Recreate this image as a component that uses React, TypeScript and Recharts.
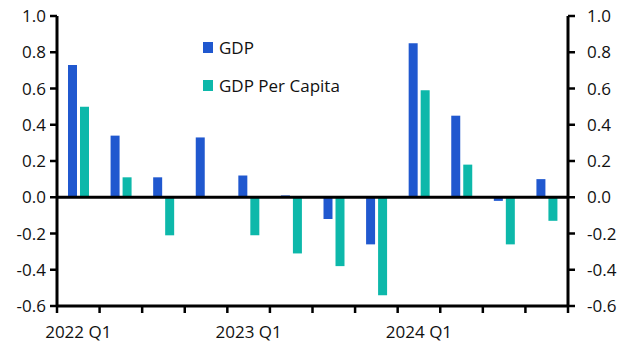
import { BarChart, Bar, XAxis, YAxis, ReferenceLine, Legend } from 'recharts'

const quarters = [
  '2022 Q1', '2022 Q2', '2022 Q3', '2022 Q4',
  '2023 Q1', '2023 Q2', '2023 Q3', '2023 Q4',
  '2024 Q1', '2024 Q2', '2024 Q3', '2024 Q4',
]
const gdp = [0.73, 0.34, 0.11, 0.33, 0.12, 0.01, -0.12, -0.26, 0.85, 0.45, -0.02, 0.1]
const gdpPerCapita = [0.5, 0.11, -0.21, 0.0, -0.21, -0.31, -0.38, -0.54, 0.59, 0.18, -0.26, -0.13]
const yTicks = [-0.6, -0.4, -0.2, 0, 0.2, 0.4, 0.6, 0.8, 1.0]

const chartData = quarters.map((q, i) => ({
  quarter: q,
  GDP: gdp[i],
  'GDP Per Capita': gdpPerCapita[i],
}))

const FONT = '"Open Sans", sans-serif'
const GDP_COLOR = '#2058CF'
const PC_COLOR = '#0DB8AA'
const WIDTH = 627
const HEIGHT = 353
const LEFT_AXIS_W = 57
const RIGHT_AXIS_W = 59
const band = (WIDTH - LEFT_AXIS_W - RIGHT_AXIS_W) / quarters.length

const QuarterTick = (props: any) => {
  const { x, y, payload, index } = props
  const isLast = index === quarters.length - 1
  return (
    <g>
      <line x1={x - band / 2} x2={x - band / 2} y1={y} y2={y + 7} stroke="#000" strokeWidth={2.5} />
      {isLast && (
        <line x1={x + band / 2} x2={x + band / 2} y1={y} y2={y + 7} stroke="#000" strokeWidth={2.5} />
      )}
      {String(payload.value).endsWith('Q1') && (
        <text x={x} y={y + 25} textAnchor="middle" dominantBaseline="central" fontSize={17} fontFamily={FONT} fill="#111">
          {payload.value}
        </text>
      )}
    </g>
  )
}

const renderLegend = () => (
  <div style={{ fontFamily: FONT, fontSize: 17, color: '#111' }}>
    {[
      { name: 'GDP', color: GDP_COLOR },
      { name: 'GDP Per Capita', color: PC_COLOR },
    ].map((item) => (
      <div key={item.name} style={{ display: 'flex', alignItems: 'center', height: 22, marginBottom: 16 }}>
        <span style={{ width: 10, height: 11, background: item.color, marginRight: 6 }} />
        <span>{item.name}</span>
      </div>
    ))}
  </div>
)

const fmt = (v: number) => v.toFixed(1)

export default function App() {
  return (
    <div style={{ position: 'absolute', left: 0, top: 0 }}>
      <BarChart
        width={WIDTH}
        height={HEIGHT}
        data={chartData}
        margin={{ top: 16, right: 0, bottom: 0, left: 0 }}
        barSize={9}
        barGap={3}
      >
        <XAxis
          dataKey="quarter"
          interval={0}
          height={47}
          tickSize={0}
          tickMargin={0}
          tickLine={false}
          axisLine={{ stroke: '#000', strokeWidth: 3 }}
          tick={<QuarterTick />}
        />
        <YAxis
          yAxisId="left"
          orientation="left"
          width={LEFT_AXIS_W}
          domain={[-0.6, 1]}
          ticks={yTicks}
          interval={0}
          tickFormatter={fmt}
          tickSize={7}
          tickMargin={4}
          axisLine={{ stroke: '#000', strokeWidth: 3 }}
          tickLine={{ stroke: '#000', strokeWidth: 2.5 }}
          tick={{ fontSize: 17, fontFamily: FONT, fill: '#111' }}
        />
        <YAxis
          yAxisId="right"
          orientation="right"
          width={RIGHT_AXIS_W}
          domain={[-0.6, 1]}
          ticks={yTicks}
          interval={0}
          tickFormatter={fmt}
          tickSize={7}
          tickMargin={12}
          axisLine={{ stroke: '#000', strokeWidth: 3 }}
          tickLine={{ stroke: '#000', strokeWidth: 2.5 }}
          tick={{ fontSize: 17, fontFamily: FONT, fill: '#111' }}
        />
        <Legend
          layout="vertical"
          verticalAlign="middle"
          align="center"
          wrapperStyle={{ left: 203, top: 36, width: 'auto', height: 'auto' }}
          content={renderLegend}
        />
        <Bar yAxisId="left" dataKey="GDP" fill={GDP_COLOR} isAnimationActive={false} />
        <Bar yAxisId="right" dataKey="GDP Per Capita" fill={PC_COLOR} isAnimationActive={false} />
        <ReferenceLine yAxisId="left" y={0} stroke="#000" strokeWidth={3} />
      </BarChart>
    </div>
  )
}
